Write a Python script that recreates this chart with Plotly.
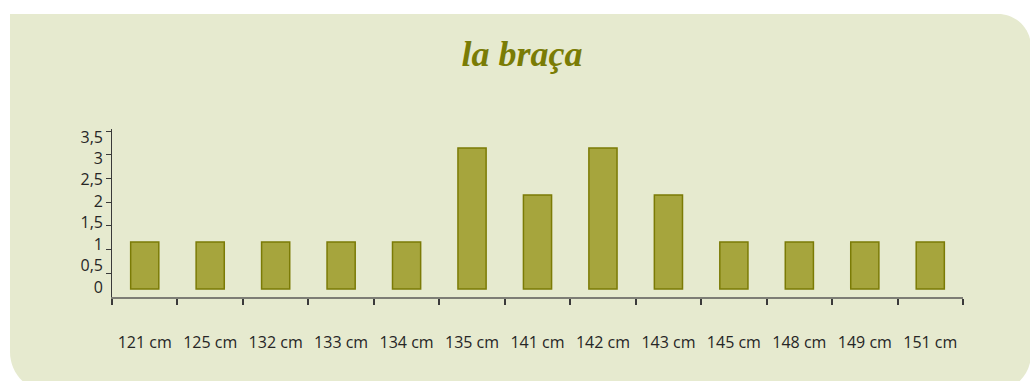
import plotly.graph_objects as go

# Data
categories = ["121 cm", "125 cm", "132 cm", "133 cm", "134 cm", "135 cm", "141 cm",
              "142 cm", "143 cm", "145 cm", "148 cm", "149 cm", "151 cm"]
counts = [1, 1, 1, 1, 1, 3, 2, 3, 2, 1, 1, 1, 1]
y_tick_values = [0, 0.5, 1, 1.5, 2, 2.5, 3, 3.5]
title_text = "la braça"

# Canvas geometry (pixels)
W, H = 1030, 381
L, R, T, B = 112, 67, 129, 84
plot_w = W - L - R
plot_h = H - T - B

PANEL = "#e6eacf"
BAR_FILL = "#a6a53d"
BAR_EDGE = "#7b7b06"
TEXT = "#262626"


def px_to_paper(x, y):
    return (x - L) / plot_w, (H - B - y) / plot_h


def panel_path(x0, y0, x1, y1, r_tr, r_br, r_bl):
    k = 0.5523
    def p(x, y):
        px, py = px_to_paper(x, y)
        return f"{px:.5f},{py:.5f}"
    s = f"M{p(x0, y0)} L{p(x1 - r_tr, y0)} "
    s += f"C{p(x1 - r_tr + k * r_tr, y0)} {p(x1, y0 + r_tr - k * r_tr)} {p(x1, y0 + r_tr)} "
    s += f"L{p(x1, y1 - r_br)} "
    s += f"C{p(x1, y1 - r_br + k * r_br)} {p(x1 - r_br + k * r_br, y1)} {p(x1 - r_br, y1)} "
    s += f"L{p(x0 + r_bl, y1)} "
    s += f"C{p(x0 + r_bl - k * r_bl, y1)} {p(x0, y1 - r_bl + k * r_bl)} {p(x0, y1 - r_bl)} Z"
    return s


# Value scales: ticks, labels and bars each sit on their own overlaid axis
tick_scale = 47.4      # px per unit, zero on the category axis line
label_scale = 42.86    # px per unit, zero label 10 px above the axis line
bar_scale = 47.0       # px per unit, bar base 8 px above the axis line

fig = go.Figure()
# empty traces so the tick axis and the label axis are rendered
for ax in ("y", "y2"):
    fig.add_trace(go.Scatter(x=[], y=[], xaxis="x", yaxis=ax, mode="markers",
                             hoverinfo="skip", showlegend=False))
fig.add_trace(go.Bar(
    x=categories, y=counts, xaxis="x", yaxis="y3",
    marker=dict(color=BAR_FILL, line=dict(color=BAR_EDGE, width=1.5)),
    hoverinfo="x+y", showlegend=False,
))

fig.update_layout(
    width=W, height=H,
    margin=dict(l=L, r=R, t=T, b=B, pad=0),
    paper_bgcolor="white",
    plot_bgcolor="rgba(0,0,0,0)",
    separators=",.",
    showlegend=False,
    bargap=0.57,
    font=dict(family="Open Sans", color=TEXT, size=16),
    title=dict(
        text=title_text, x=522 / W, xref="container", xanchor="center",
        y=1 - 53 / H, yref="container", yanchor="middle",
        font=dict(family="Liberation Serif", size=36, color="#7a7c05",
                  style="italic", weight="bold"),
    ),
    xaxis=dict(
        type="category", categoryorder="array", categoryarray=categories,
        showgrid=False, zeroline=False,
        showline=True, linecolor="#7d7d75", linewidth=2,
        ticks="outside", tickson="boundaries", ticklen=6, tickwidth=2,
        tickcolor="#3a3a3a", ticklabelstandoff=30,
        tickfont=dict(family="Open Sans", size=16, color=TEXT),
    ),
    yaxis=dict(
        range=[0, plot_h / tick_scale], showgrid=False, zeroline=False,
        showline=True, linecolor="#3a3a3a", linewidth=1,
        ticks="outside", ticklen=5, tickwidth=1, tickcolor="#3a3a3a",
        tickmode="array", tickvals=y_tick_values[1:], showticklabels=False,
    ),
    yaxis2=dict(
        overlaying="y", side="left", anchor="x",
        range=[-10 / label_scale, (plot_h - 10) / label_scale],
        showgrid=False, zeroline=False, showline=False, ticks="",
        tickmode="array", tickvals=y_tick_values,
        ticklabelstandoff=8,
        tickfont=dict(family="Open Sans", size=16, color=TEXT),
    ),
    yaxis3=dict(
        overlaying="y", side="left", anchor="x",
        range=[-8 / bar_scale, (plot_h - 8) / bar_scale],
        showgrid=False, zeroline=False, showline=False,
        showticklabels=False, ticks="",
    ),
    shapes=[dict(
        type="path", xref="paper", yref="paper", layer="below",
        path=panel_path(10, 14, 1031, 392, 33, 38, 40),
        fillcolor=PANEL, line=dict(width=0),
    )],
)

fig.write_html("out.html")
